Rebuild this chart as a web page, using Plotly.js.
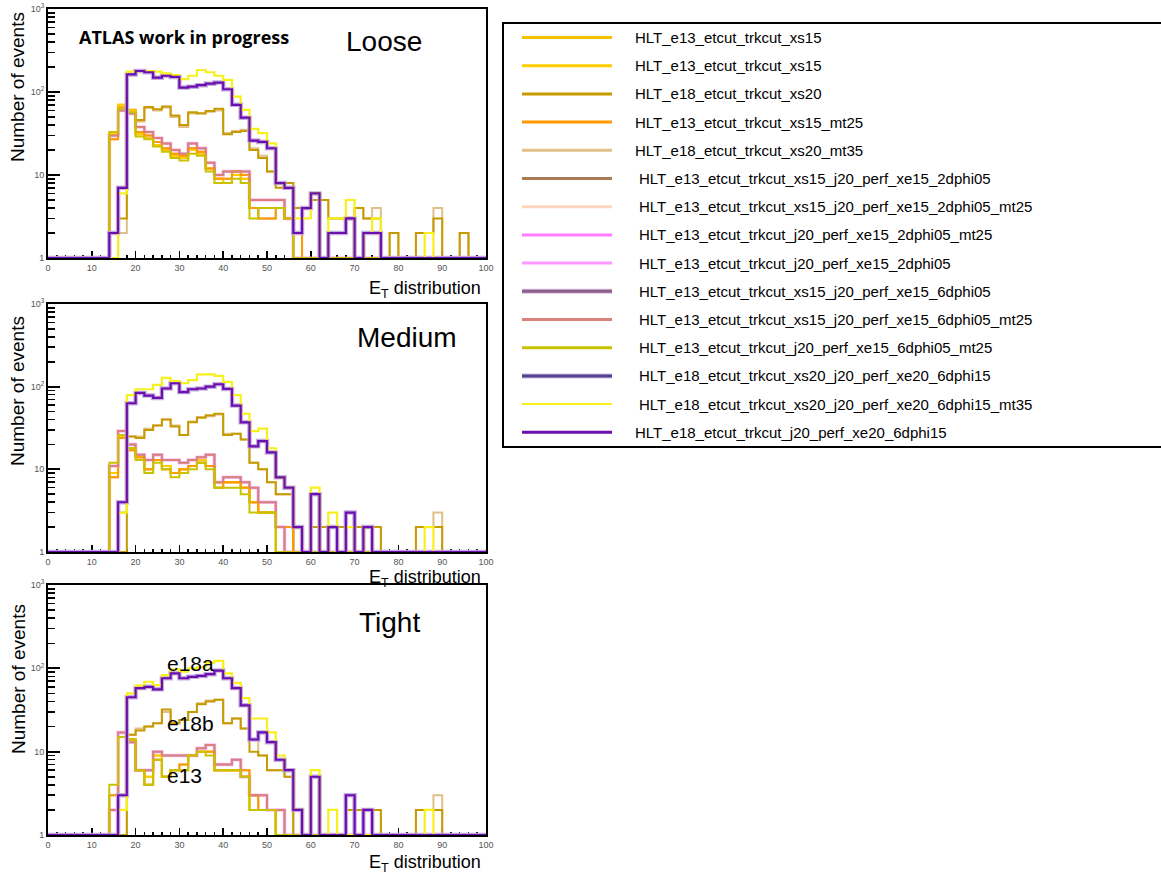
<!DOCTYPE html>
<html><head><meta charset="utf-8">
<script src="https://cdn.plot.ly/plotly-3.0.1.min.js"></script>
<style>html,body{margin:0;padding:0;background:#fff}#chart{width:1161px;height:877px}</style>
</head><body><div id="chart"></div>
<script>
// ---------- DATA (bin lower edges, width 2) ----------
const binLow = [0,2,4,6,8,10,12,14,16,18,20,22,24,26,28,30,32,34,36,38,40,42,44,46,48,50,52,54,56,58,60,62,64,66,68,70,72,74,76,78,80,82,84,86,88,90,92,94,96,98];
const binWidth = 2;

// Loose
const loose_e18_purple = [0,0,0,0,0,0,0,2,7,163, 179,173,149,157,152,113,116,121,126,130, 108,70,49,26,25,21,8,7,2,4, 6,0,2,2,3,0,2,2,0,0, 0,0,0,0,0,0,0,0,0,0];
const loose_e18_yellow = [0,0,0,0,0,0,0,0,6,176, 178,178,176,168,160,143,157,184,173,157, 140,88,61,36,32,24,8,7,3,3, 6,0,3,3,5,0,2,3,0,0, 0,0,0,2,0,0,0,0,0,0];
const loose_e18_gold   = [0,0,0,0,0,0,0,0,3,61, 46,66,62,67,52,40,57,55,59,63, 31,33,34,20,16,11,7,8,4,4, 5,5,3,3,3,4,3,3,0,2, 0,0,2,2,3,0,0,2,0,0];
const loose_e18_tan    = [0,0,0,0,0,0,0,0,2,58, 44,64,60,65,50,38,55,56,58,60, 32,34,35,21,17,11,8,8,4,4, 5,5,3,3,3,4,3,4,0,2, 0,0,2,2,4,0,0,2,0,0];
const loose_e13_gold   = [0,0,0,0,0,0,0,31,70,60, 31,28,23,20,17,16,20,18,12,9, 8,10,9,4,4,4,4,3,0,0, 0,0,0,0,0,0,0,0,0,0, 0,0,0,0,0,0,0,0,0,0];
const loose_e13_orange = [0,0,0,0,0,0,0,27,65,56, 33,30,25,21,18,17,21,19,12,9, 9,11,10,4,3,3,4,3,2,0, 0,0,0,0,0,0,0,0,0,0, 0,0,0,0,0,0,0,0,0,0];
const loose_e13_rose   = [0,0,0,0,0,0,0,30,60,55, 38,33,28,24,20,18,24,21,14,10, 11,11,11,5,5,5,5,3,0,0, 0,0,0,0,0,0,0,0,0,0, 0,0,0,0,0,0,0,0,0,0];
const loose_e13_olive  = [0,0,0,0,0,0,0,33,63,57, 29,27,22,19,16,15,18,17,11,8, 8,9,8,3,4,4,4,3,0,0, 0,0,0,0,0,0,0,0,0,0, 0,0,0,0,0,0,0,0,0,0];

// Medium
const medium_e18_purple = [0,0,0,0,0,0,0,0,4,63, 84,78,73,95,110,86,93,95,100,107, 94,59,37,19,22,16,8,6,2,0, 5,0,2,0,3,0,2,0,0,0, 0,0,0,0,0,0,0,0,0,0];
const medium_e18_yellow = [0,0,0,0,0,0,0,0,3,79, 93,93,105,128,117,110,120,141,141,135, 114,79,47,29,31,18,8,6,2,0, 6,0,3,0,2,0,2,0,0,0, 0,0,0,2,0,0,0,0,0,0];
const medium_e18_gold   = [0,0,0,0,0,0,0,0,0,25, 24,30,34,40,33,26,37,42,45,47, 26,27,23,12,10,7,5,5,0,0, 2,2,2,2,2,2,2,2,0,0, 0,0,2,2,2,0,0,0,0,0];
const medium_e18_tan    = [0,0,0,0,0,0,0,0,3,25, 25,31,34,40,34,26,38,43,44,46, 27,27,23,12,10,7,5,5,0,0, 2,2,2,2,2,2,2,2,0,0, 0,0,2,2,3,0,0,0,0,0];
const medium_e13_gold   = [0,0,0,0,0,0,0,9,25,18, 14,10,13,11,9,10,11,13,11,7, 7,7,6,4,3,3,0,0,0,0, 0,0,0,0,0,0,0,0,0,0, 0,0,0,0,0,0,0,0,0,0];
const medium_e13_orange = [0,0,0,0,0,0,0,8,24,17, 14,10,13,10,9,10,11,12,11,6, 7,7,6,4,3,3,2,2,0,0, 0,0,0,0,0,0,0,0,0,0, 0,0,0,0,0,0,0,0,0,0];
const medium_e13_rose   = [0,0,0,0,0,0,0,11,29,20, 15,13,15,13,13,12,13,14,15,7, 8,8,7,6,4,4,2,0,0,0, 0,0,0,0,0,0,0,0,0,0, 0,0,0,0,0,0,0,0,0,0];
const medium_e13_olive  = [0,0,0,0,0,0,0,12,26,18, 13,9,12,10,8,9,10,12,10,6, 6,6,5,3,3,3,0,0,0,0, 0,0,0,0,0,0,0,0,0,0, 0,0,0,0,0,0,0,0,0,0];

// Tight
const tight_e18_purple = [0,0,0,0,0,0,0,0,3,45, 58,60,56,76,87,76,79,81,85,94, 76,58,36,14,17,13,8,6,2,0, 5,0,0,0,3,0,2,0,0,0, 0,0,0,0,0,0,0,0,0,0];
const tight_e18_yellow = [0,0,0,0,0,0,0,0,2,50, 62,69,63,83,97,91,100,103,117,123, 87,67,44,25,25,17,9,6,2,0, 6,0,2,0,0,0,0,0,0,0, 0,0,0,2,0,0,0,0,0,0];
const tight_e18_gold   = [0,0,0,0,0,0,0,0,0,16, 18,20,22,32,22,24,30,37,40,42, 22,25,19,10,9,6,6,5,0,0, 0,0,0,0,2,2,2,2,0,0, 0,0,2,2,2,0,0,0,0,0];
const tight_e18_tan    = [0,0,0,0,0,0,0,0,0,16, 19,20,22,30,22,24,30,38,41,42, 22,25,19,14,9,6,6,5,0,0, 0,0,0,0,2,2,2,2,0,0, 0,0,2,2,3,0,0,0,0,0];
const tight_e13_gold   = [0,0,0,0,0,0,0,2,15,14, 6,5,9,5,6,6,9,10,10,6, 6,6,5,2,2,2,0,0,0,0, 0,0,0,0,0,0,0,0,0,0, 0,0,0,0,0,0,0,0,0,0];
const tight_e13_orange = [0,0,0,0,0,0,0,3,15,14, 6,4,8,5,6,7,9,10,10,6, 6,6,6,3,2,2,0,0,0,0, 0,0,0,0,0,0,0,0,0,0, 0,0,0,0,0,0,0,0,0,0];
const tight_e13_rose   = [0,0,0,0,0,0,0,2,17,13, 6,6,10,9,9,9,9,11,12,7, 7,8,5,3,3,2,2,0,0,0, 0,0,0,0,0,0,0,0,0,0, 0,0,0,0,0,0,0,0,0,0];
const tight_e13_olive  = [0,0,0,0,0,0,0,4,15,14, 6,4,8,5,6,6,9,10,9,6, 6,6,5,2,2,2,0,0,0,0, 0,0,0,0,0,0,0,0,0,0, 0,0,0,0,0,0,0,0,0,0];

const seriesNames = [
 'HLT_e13_etcut_trkcut_xs15',
 'HLT_e13_etcut_trkcut_xs15',
 'HLT_e18_etcut_trkcut_xs20',
 'HLT_e13_etcut_trkcut_xs15_mt25',
 'HLT_e18_etcut_trkcut_xs20_mt35',
 'HLT_e13_etcut_trkcut_xs15_j20_perf_xe15_2dphi05',
 'HLT_e13_etcut_trkcut_xs15_j20_perf_xe15_2dphi05_mt25',
 'HLT_e13_etcut_trkcut_j20_perf_xe15_2dphi05_mt25',
 'HLT_e13_etcut_trkcut_j20_perf_xe15_2dphi05',
 'HLT_e13_etcut_trkcut_xs15_j20_perf_xe15_6dphi05',
 'HLT_e13_etcut_trkcut_xs15_j20_perf_xe15_6dphi05_mt25',
 'HLT_e13_etcut_trkcut_j20_perf_xe15_6dphi05_mt25',
 'HLT_e18_etcut_trkcut_xs20_j20_perf_xe20_6dphi15',
 'HLT_e18_etcut_trkcut_xs20_j20_perf_xe20_6dphi15_mt35',
 'HLT_e18_etcut_trkcut_j20_perf_xe20_6dphi15'
];
const seriesSource = ['e13_gold','e13_gold','e18_gold','e13_orange','e18_tan','e13_orange','e13_orange','e13_rose','e13_rose','e13_rose','e13_rose','e13_olive','e18_purple','e18_yellow','e18_purple'];
const panelNames = ['Loose','Medium','Tight'];

// ---------- STYLE ----------
const seriesColors = ['#f2c200','#ffcc00','#c79a00','#ff9a00','#dfc087','#a87c52','#ffd6bd','#ff7dff','#ff99ff','#9c6e9c','#d9827c','#c9c200','#bfa3dc','#f7f01c','#6b0fae'];
const seriesWidths = [2,2,2,2,2,2,2,3.5,3.5,2,2,2,4.5,2.2,2.2];
const seriesOpacity = [1,1,1,1,1,0.5,1,0.3,0.3,0.45,1,1,0.9,1,1];
const drawOrder = [7,8,6,9,5,4,2,0,1,3,10,11,12,13,14];

const panels = [
 {e18_purple:loose_e18_purple,e18_yellow:loose_e18_yellow,e18_gold:loose_e18_gold,e18_tan:loose_e18_tan,e13_gold:loose_e13_gold,e13_orange:loose_e13_orange,e13_rose:loose_e13_rose,e13_olive:loose_e13_olive},
 {e18_purple:medium_e18_purple,e18_yellow:medium_e18_yellow,e18_gold:medium_e18_gold,e18_tan:medium_e18_tan,e13_gold:medium_e13_gold,e13_orange:medium_e13_orange,e13_rose:medium_e13_rose,e13_olive:medium_e13_olive},
 {e18_purple:tight_e18_purple,e18_yellow:tight_e18_yellow,e18_gold:tight_e18_gold,e18_tan:tight_e18_tan,e13_gold:tight_e13_gold,e13_orange:tight_e13_orange,e13_rose:tight_e13_rose,e13_olive:tight_e13_olive}
];

const W = 1161, H = 877;
const px = p => p / W, py = p => 1 - p / H;
const YMIN = 1; // empty bins are drawn on the frame bottom, as ROOT does

const traces = [];
panels.forEach((pd, pi) => {
  const suffix = pi === 0 ? '' : String(pi + 1);
  drawOrder.forEach(si => {
    const vals = pd[seriesSource[si]];
    const xs = binLow.concat([binLow[binLow.length-1] + binWidth]);
    const ys = vals.map(v => v > 0 ? v : YMIN);
    ys.push(ys[ys.length-1]);
    traces.push({
      type:'scatter', mode:'lines', name: seriesNames[si],
      x: xs, y: ys, xaxis:'x'+suffix, yaxis:'y'+suffix,
      line:{shape:'hv', color:seriesColors[si], width:seriesWidths[si]},
      opacity: seriesOpacity[si], showlegend:false, hoverinfo:'skip'
    });
  });
});

// frame geometry (pixels)
const frames = [{top:9,bottom:258},{top:304,bottom:552},{top:585,bottom:835}];
const fx0 = 48, fx1 = 486;

const xMinor = [], yMinor = [];
for (let v = 0; v <= 100; v += 2) if (v % 10) xMinor.push(v);
[1,10,100].forEach(d => { for (let k = 2; k <= 9; k++) yMinor.push(k*d); });

const layout = {
  width: W, height: H, margin:{l:0,r:0,t:0,b:0},
  paper_bgcolor:'#fff', plot_bgcolor:'#fff', showlegend:false,
  font:{family:'Liberation Sans, Arial, sans-serif', color:'#000'},
  annotations: [], shapes: []
};
frames.forEach((f, i) => {
  const s = i === 0 ? '' : String(i + 1);
  layout['xaxis'+s] = {
    domain:[px(fx0), px(fx1)], anchor:'y'+s, range:[0,100], showgrid:false, zeroline:false,
    showline:true, mirror:true, linecolor:'#000', linewidth:2, layer:'below traces',
    tickmode:'array', tickvals:[0,10,20,30,40,50,60,70,80,90,100],
    ticktext:['0','10','20','30','40','50','60','70','80','90','100'],
    ticks:'inside', ticklen:7, tickwidth:1.5, tickcolor:'#000',
    tickfont:{size:9, color:'#555', family:'Liberation Sans, Arial, sans-serif'},
    minor:{tickmode:'array', tickvals:xMinor, ticks:'inside', ticklen:3.5, tickwidth:1.5, tickcolor:'#000', showgrid:false},
    fixedrange:true
  };
  layout['yaxis'+s] = {
    domain:[py(f.bottom), py(f.top)], anchor:'x'+s, type:'log', range:[0,3], showgrid:false, zeroline:false,
    showline:true, mirror:true, linecolor:'#000', linewidth:2, layer:'below traces',
    tickmode:'array', tickvals:[1,10,100,1000], ticktext:['1','10','10<sup>2</sup>','10<sup>3</sup>'],
    ticks:'inside', ticklen:12, tickwidth:2, tickcolor:'#000',
    tickfont:{size:9, color:'#555', family:'Liberation Sans, Arial, sans-serif'},
    minor:{tickmode:'array', tickvals:yMinor, ticks:'inside', ticklen:7, tickwidth:1.5, tickcolor:'#000', showgrid:false},
    fixedrange:true
  };
});

const ann = layout.annotations;
const txt = (text, x, y, size, opts={}) => ann.push(Object.assign({
  text, x:px(x), y:py(y), xref:'paper', yref:'paper', showarrow:false,
  xanchor:'center', yanchor:'middle', font:{size, color:'#000', family:'Liberation Sans, Arial, sans-serif'}
}, opts));

txt('<b>ATLAS work in progress</b>', 77, 37, 18, {xanchor:'left', font:{size:18, color:'#000', family:'Open Sans, Liberation Sans, sans-serif'}});
const panelLabelPos = [[384,41],[407,337],[389,622]];
panelNames.forEach((n, i) => txt(n, panelLabelPos[i][0], panelLabelPos[i][1], 28));
const yTitleY = [87, 391, 679];
const xTitleY = [289, 578, 863];
frames.forEach((f, i) => {
  txt('Number of events', 18, yTitleY[i], 19, {textangle:-90});
  txt('E<sub>T</sub> distribution', 483, xTitleY[i], 18, {xanchor:'right'});
});
txt('e18a', 165, 663, 21, {xanchor:'left'});
txt('e18b', 165, 723, 21, {xanchor:'left'});
txt('e13', 165, 775, 21, {xanchor:'left'});

// legend box (drawn by hand to match the ROOT legend layout)
layout.shapes.push({type:'rect', xref:'paper', yref:'paper', x0:px(503), x1:px(1170), y0:py(447), y1:py(23),
  line:{color:'#000', width:2}, fillcolor:'rgba(0,0,0,0)'});
const legIndent = [633,633,633,633,633,637,637,637,637,637,637,637,637,637,633];
seriesNames.forEach((n, i) => {
  const yy = 37.5 + 28.2 * i;
  if (i === 9 || i === 12) {
    layout.shapes.push({type:'line', xref:'paper', yref:'paper', x0:px(522), x1:px(612), y0:py(yy), y1:py(yy),
      line:{color: i === 12 ? '#cbb8e6' : '#d6bcd6', width:5}});
  }
  const legColor = i === 12 ? '#57408f' : (i === 9 ? '#8a5f8a' : seriesColors[i]);
  layout.shapes.push({type:'line', xref:'paper', yref:'paper', x0:px(522), x1:px(612), y0:py(yy), y1:py(yy),
    line:{color: legColor, width: i === 13 ? 2 : 3}});
  txt(n, legIndent[i], yy, 15, {xanchor:'left', font:{size:15, color:'#000', family:'Liberation Sans, Arial, sans-serif'}});
});

Plotly.newPlot('chart', traces, layout, {staticPlot:true, displayModeBar:false});
</script>
</body></html>
